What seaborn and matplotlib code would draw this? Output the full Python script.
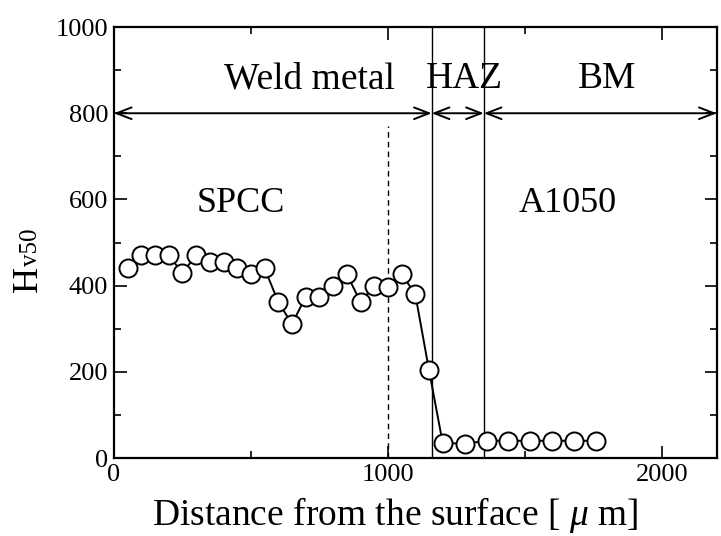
import matplotlib
matplotlib.use("Agg")
import matplotlib.pyplot as plt
import seaborn as sns
import pandas as pd
from matplotlib.ticker import MultipleLocator

# Hardness profile across the weld (distance in micrometres, Hv50)
distance_um = [50, 100, 150, 200, 250, 300, 350, 400, 450, 500, 550,
               600, 650, 700, 750, 800, 850, 900, 950, 1000, 1050, 1100,
               1150, 1200, 1280, 1360, 1440, 1520, 1600, 1680, 1760]
hardness_hv = [440, 470, 470, 470, 430, 470, 455, 455, 440, 427, 440,
               362, 311, 374, 374, 399, 427, 362, 399, 397, 427, 380,
               204, 35, 33, 40, 40, 40, 40, 40, 40]

# Zone boundaries and annotations
haz_start = 1160
haz_end = 1350
pass_boundary = 1000
zone_labels = ["Weld metal", "HAZ", "BM"]
zone_label_x = [713, 1280, 1800]
material_labels = ["SPCC", "A1050"]
material_label_x = [462, 1655]

sns.set_theme(style="ticks")
plt.rcParams["font.family"] = ["Liberation Serif", "DejaVu Serif"]
plt.rcParams["mathtext.fontset"] = "custom"
plt.rcParams["mathtext.rm"] = "Liberation Serif"
plt.rcParams["mathtext.it"] = "Liberation Serif:italic"
for key in ["text.color", "axes.labelcolor", "xtick.color", "ytick.color",
            "axes.edgecolor"]:
    plt.rcParams[key] = "black"

df = pd.DataFrame({"distance": distance_um, "hv": hardness_hv})

fig = plt.figure(figsize=(7.21, 5.36), dpi=100)
ax = fig.add_axes([0.158, 0.1455, 0.836, 0.804])

sns.lineplot(data=df, x="distance", y="hv", ax=ax, color="black",
             linewidth=1.4, marker="o", markersize=13,
             markerfacecolor="white", markeredgecolor="black",
             markeredgewidth=1.4, zorder=3)

ax.set_xlim(0, 2200)
ax.set_ylim(0, 1000)

# zone boundaries
ax.axvline(haz_start, color="black", linewidth=1.0, zorder=2)
ax.axvline(haz_end, color="black", linewidth=1.0, zorder=2)
ax.plot([pass_boundary, pass_boundary], [0, 770], color="black",
        linewidth=1.0, linestyle=(0, (4, 3)), zorder=2)

# zone extent arrows
arrow_y = 800
spans = [(0, haz_start), (haz_start, haz_end), (haz_end, 2200)]
for x0, x1 in spans:
    ax.annotate("", xy=(x1, arrow_y), xytext=(x0, arrow_y),
                arrowprops=dict(arrowstyle="<->,head_length=0.9,head_width=0.35",
                                color="black", linewidth=1.4,
                                shrinkA=0, shrinkB=0))

for label, x in zip(zone_labels, zone_label_x):
    ax.text(x, 880, label, ha="center", va="center", fontsize=27)
for label, x in zip(material_labels, material_label_x):
    ax.text(x, 590, label, ha="center", va="center", fontsize=26)

ax.xaxis.set_major_locator(MultipleLocator(1000))
ax.xaxis.set_minor_locator(MultipleLocator(500))
ax.yaxis.set_major_locator(MultipleLocator(200))
ax.yaxis.set_minor_locator(MultipleLocator(100))
ax.tick_params(which="both", direction="in", top=True, right=True,
               colors="black", labelsize=19, pad=4)
ax.tick_params(which="major", length=9, width=1.2)
ax.tick_params(which="minor", length=5, width=1.2)

for side in ax.spines.values():
    side.set_visible(True)
    side.set_linewidth(1.6)
    side.set_color("black")

ax.set_xlabel(r"Distance from the surface [ $\mu$ m]", fontsize=27)
ax.xaxis.set_label_coords(0.466, -0.085)
ax.set_ylabel("")

# y-axis title: large "H" followed by smaller "v50" on the same baseline
fig.text(37 / 721, 1 - 292 / 536, "H", rotation=90, rotation_mode="anchor",
         ha="left", va="baseline", fontsize=26)
fig.text(37 / 721, 1 - 266 / 536, "v50", rotation=90, rotation_mode="anchor",
         ha="left", va="baseline", fontsize=18)

fig.savefig("out.png", dpi=100, facecolor="white")
